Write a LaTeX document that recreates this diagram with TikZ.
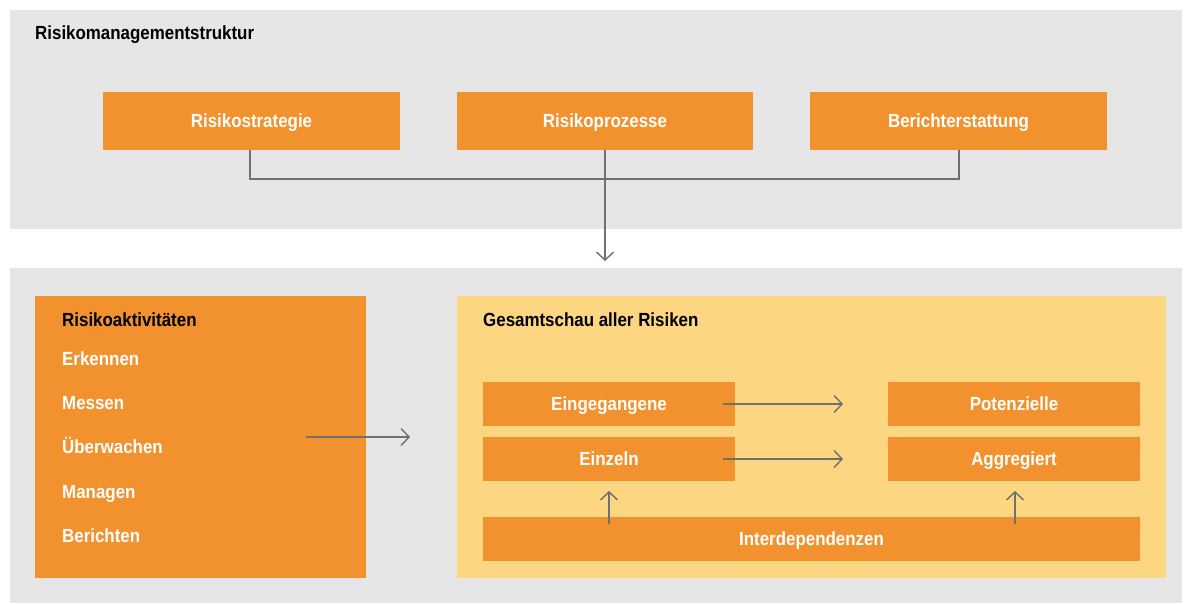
\documentclass[tikz,border=0pt]{standalone}
\usepackage{fontspec}
\setmainfont{Liberation Sans}[FakeStretch=0.89]
\usetikzlibrary{arrows.meta}
\definecolor{panel}{HTML}{E6E6E6}
\definecolor{org}{HTML}{F2922E}
\definecolor{yel}{HTML}{FCD680}
\definecolor{ln}{HTML}{707070}
\tikzset{
  tfont/.style={font=\bfseries\fontsize{19}{22}\selectfont, text height=13.5pt, text depth=0pt},
  obox/.style={fill=org, draw=none, inner sep=0pt, text=white, tfont},
  ttl/.style={anchor=west, inner sep=0pt, tfont},
  conn/.style={draw=ln, line width=1.4pt},
  arr/.style={conn, -{Straight Barb[length=8pt, width=17pt, line width=1.4pt]}}
}
\begin{document}
\begin{tikzpicture}[x=1pt, y=-1pt]
\useasboundingbox (0,0) rectangle (1193,604);
\fill[white] (0,0) rectangle (1193,604);
% panels
\fill[panel] (10,10) rectangle (1182,229);
\fill[panel] (10,268) rectangle (1182,603);
\node[ttl] (t1) at (35,33) {Risikomanagementstruktur};
% top boxes
\node[obox, minimum width=297pt, minimum height=58pt] (rs) at (251.5,121) {Risikostrategie};
\node[obox, minimum width=296pt, minimum height=58pt] (rp) at (605,121) {Risikoprozesse};
\node[obox, minimum width=297pt, minimum height=58pt] (be) at (958.5,121) {Berichterstattung};
\coordinate (j1) at (250,179);
\coordinate (j2) at (959,179);
\coordinate (down) at (605,261);
\draw[conn] (rs.south -| j1) -- (j1) -- (j2) -- (be.south -| j2);
\draw[arr] (rp.south) -- (down);
% left box
\node[fill=org, inner sep=0pt, minimum width=331pt, minimum height=282pt] (ra) at (200.5,437) {};
\node[ttl, text=black] (rat) at (62,320) {Risikoaktivitäten};
\node[ttl, text=white] (a1) at (62,359) {Erkennen};
\node[ttl, text=white] (a2) at (62,403) {Messen};
\node[ttl, text=white] (a3) at (62,447) {Überwachen};
\node[ttl, text=white] (a4) at (62,492) {Managen};
\node[ttl, text=white] (a5) at (62,536) {Berichten};
% yellow panel
\node[fill=yel, inner sep=0pt, minimum width=709pt, minimum height=282pt] (gs) at (811.5,437) {};
\node[ttl, text=black] (gst) at (483,320) {Gesamtschau aller Risiken};
\coordinate (ls) at (306,437);
\coordinate (le) at (410,437);
\draw[arr] (ls) -- (le);
% inner boxes
\node[obox, minimum width=252pt, minimum height=44pt] (ein) at (609,404) {Eingegangene};
\node[obox, minimum width=252pt, minimum height=44pt] (pot) at (1014,404) {Potenzielle};
\node[obox, minimum width=252pt, minimum height=44pt] (einz) at (609,459) {Einzeln};
\node[obox, minimum width=252pt, minimum height=44pt] (agg) at (1014,459) {Aggregiert};
\node[obox, minimum width=657pt, minimum height=44pt] (int) at (811.5,539) {Interdependenzen};
\coordinate (e1) at (723,404);
\coordinate (e2) at (843,404);
\coordinate (f1) at (723,459);
\coordinate (f2) at (843,459);
\draw[arr] (e1) -- (e2);
\draw[arr] (f1) -- (f2);
\coordinate (u1) at (609,524);
\coordinate (u2) at (609,491);
\coordinate (v1) at (1015,524);
\coordinate (v2) at (1015,491);
\draw[arr] (u1) -- (u2);
\draw[arr] (v1) -- (v2);
\end{tikzpicture}
\end{document}
